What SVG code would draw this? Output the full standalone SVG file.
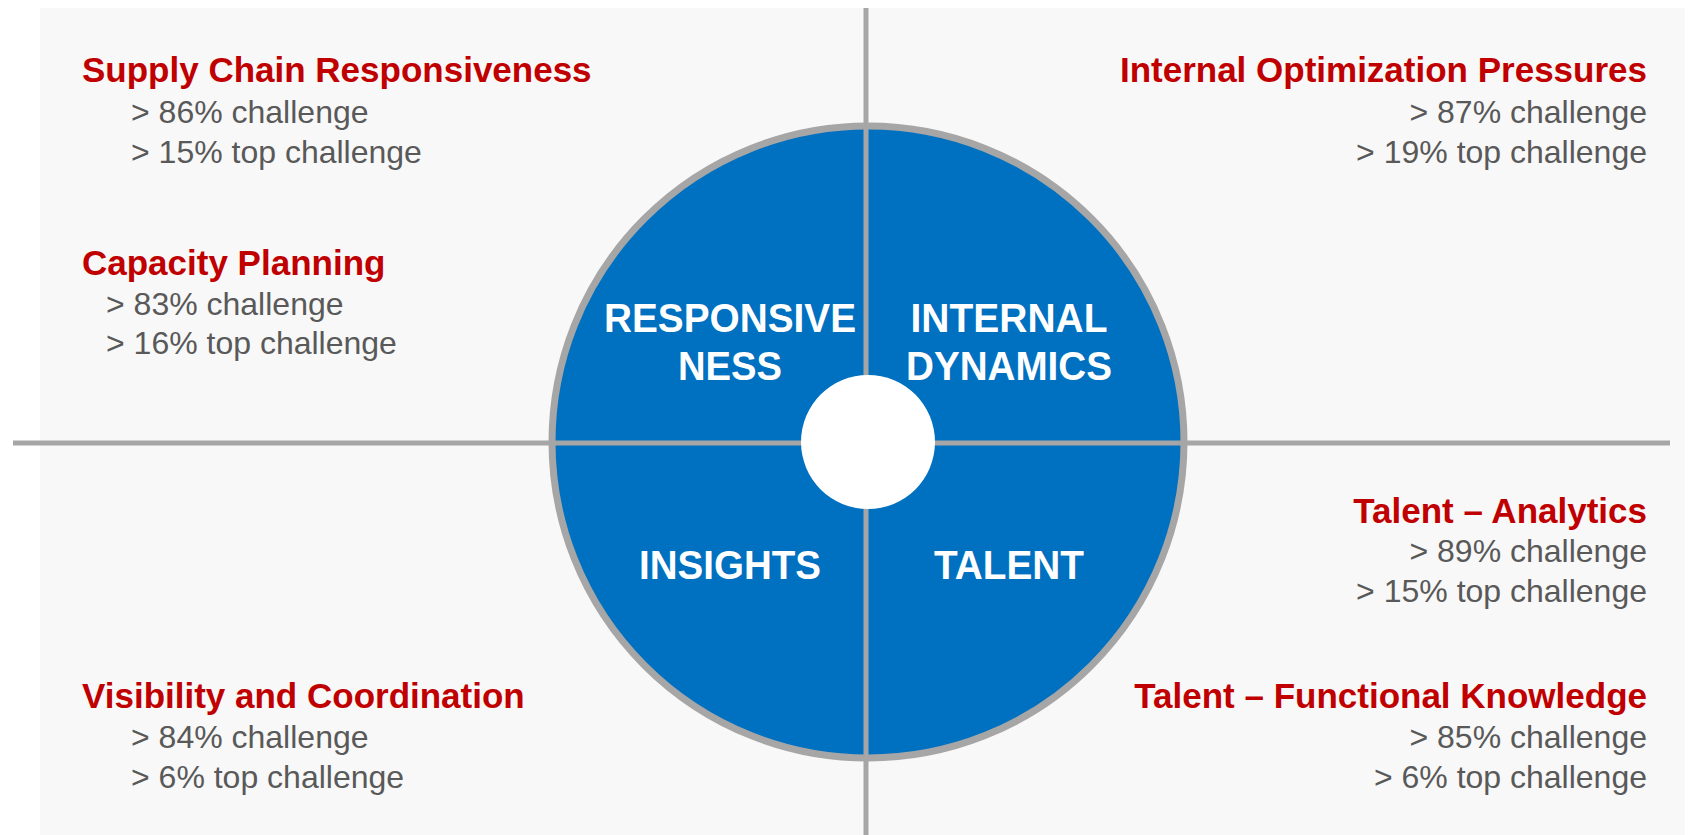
<svg xmlns="http://www.w3.org/2000/svg" width="1697" height="835" viewBox="0 0 1697 835">
<style>
.h{font-family:"Liberation Sans",Arial,sans-serif;font-weight:bold;font-size:35px;fill:#c00000}
.t{font-family:"Liberation Sans",Arial,sans-serif;font-size:32px;fill:#595959}
.c{font-family:"Liberation Sans",Arial,sans-serif;font-weight:bold;font-size:41px;fill:#ffffff;text-anchor:middle}
.r{text-anchor:end}
.div{stroke:#a6a6a6;stroke-width:5;fill:none}
</style>
<rect x="40" y="8" width="1645" height="827" fill="#f8f8f8"/>
<g id="wheel">
<circle cx="868" cy="442" r="316" fill="#0070c0" stroke="#a6a6a6" stroke-width="7"/>
</g>
<g id="connectors">
<line class="div" x1="13" y1="443" x2="1670" y2="443"/>
<line class="div" x1="866" y1="8" x2="866" y2="835"/>
</g>
<g id="hub">
<circle cx="868" cy="442" r="67" fill="#ffffff"/>
</g>
<g id="q-responsiveness">
<text class="c" x="730" y="332" textLength="252" lengthAdjust="spacingAndGlyphs">RESPONSIVE</text>
<text class="c" x="730" y="380" textLength="104" lengthAdjust="spacingAndGlyphs">NESS</text>
</g>
<g id="q-internal">
<text class="c" x="1009" y="332" textLength="197" lengthAdjust="spacingAndGlyphs">INTERNAL</text>
<text class="c" x="1009" y="380" textLength="206" lengthAdjust="spacingAndGlyphs">DYNAMICS</text>
</g>
<g id="q-insights">
<text class="c" x="730" y="579" textLength="182" lengthAdjust="spacingAndGlyphs">INSIGHTS</text>
</g>
<g id="q-talent">
<text class="c" x="1009" y="579" textLength="150" lengthAdjust="spacingAndGlyphs">TALENT</text>
</g>
<g id="supply-chain">
<text class="h" x="82" y="82">Supply Chain Responsiveness</text>
<text class="t" x="131" y="123">&gt; 86% challenge</text>
<text class="t" x="131" y="163">&gt; 15% top challenge</text>
</g>
<g id="capacity">
<text class="h" x="82" y="275">Capacity Planning</text>
<text class="t" x="106" y="315">&gt; 83% challenge</text>
<text class="t" x="106" y="354">&gt; 16% top challenge</text>
</g>
<g id="visibility">
<text class="h" x="82" y="708">Visibility and Coordination</text>
<text class="t" x="131" y="748">&gt; 84% challenge</text>
<text class="t" x="131" y="788">&gt; 6% top challenge</text>
</g>
<g id="internal-opt">
<text class="h r" x="1647" y="82">Internal Optimization Pressures</text>
<text class="t r" x="1647" y="123">&gt; 87% challenge</text>
<text class="t r" x="1647" y="163">&gt; 19% top challenge</text>
</g>
<g id="talent-analytics">
<text class="h r" x="1647" y="523">Talent – Analytics</text>
<text class="t r" x="1647" y="562">&gt; 89% challenge</text>
<text class="t r" x="1647" y="602">&gt; 15% top challenge</text>
</g>
<g id="talent-functional">
<text class="h r" x="1647" y="708">Talent – Functional Knowledge</text>
<text class="t r" x="1647" y="748">&gt; 85% challenge</text>
<text class="t r" x="1647" y="788">&gt; 6% top challenge</text>
</g>
</svg>
